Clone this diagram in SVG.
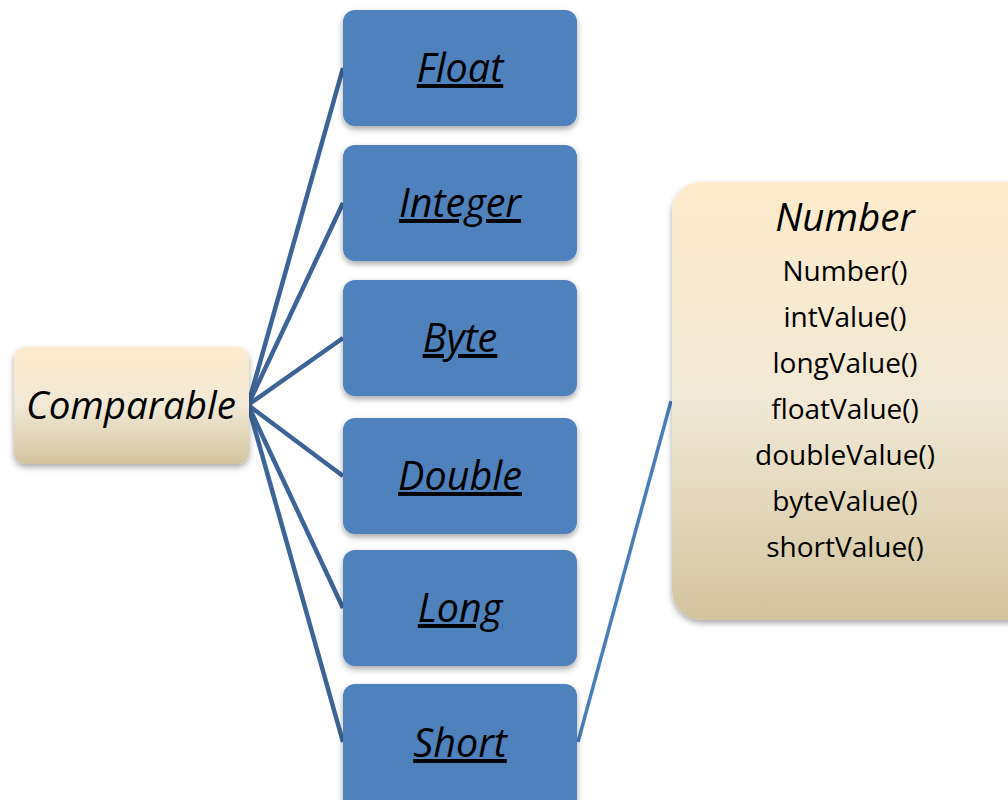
<svg xmlns="http://www.w3.org/2000/svg" width="1008" height="800" viewBox="0 0 1008 800">
  <style>
    .cls { fill: #4F81BD; filter: url(#shadow); }
    .cls-label { font-family: "Open Sans", Lato, sans-serif; font-style: italic; font-size: 39.5px; fill: #000; text-anchor: middle; text-decoration: underline; }
    .beige { filter: url(#shadow); }
    .title { font-family: "Open Sans", Lato, sans-serif; font-style: italic; font-size: 38.5px; fill: #000; text-anchor: middle; }
    .method { font-family: "Open Sans", Lato, sans-serif; font-size: 28px; fill: #000; text-anchor: middle; }
    .link { stroke: #3C6496; stroke-width: 4.5; fill: none; }
    .link-thin { stroke: #4A7EBB; stroke-width: 3.5; fill: none; }
  </style>
  <defs>
    <filter id="shadow" x="-10%" y="-10%" width="120%" height="130%">
      <feDropShadow dx="0" dy="3" stdDeviation="3" flood-color="#000" flood-opacity="0.35"/>
    </filter>
    <linearGradient id="beigeGrad" x1="0" y1="0" x2="0" y2="1">
      <stop offset="0" stop-color="#FDEBCB"/>
      <stop offset="0.5" stop-color="#F1E9D6"/>
      <stop offset="1" stop-color="#D3C49E"/>
    </linearGradient>
  </defs>

  <rect width="1008" height="800" fill="#FFFFFF"/>

  <!-- connectors -->
  <g id="connectors">
    <line class="link" x1="248" y1="405" x2="343" y2="68"/>
    <line class="link" x1="248" y1="405" x2="343" y2="203"/>
    <line class="link" x1="248" y1="405" x2="343" y2="338"/>
    <line class="link" x1="248" y1="405" x2="343" y2="476"/>
    <line class="link" x1="248" y1="405" x2="343" y2="608"/>
    <line class="link" x1="248" y1="405" x2="343" y2="742"/>
    <line class="link-thin" x1="578" y1="742" x2="671" y2="401"/>
  </g>

  <g id="comparable">
    <rect class="beige" x="14" y="347" width="235" height="117" rx="12" fill="url(#beigeGrad)"/>
    <text class="title" x="131" y="419">Comparable</text>
  </g>

  <g id="float">
    <rect class="cls" x="343" y="10" width="234" height="116" rx="12"/>
    <text class="cls-label" x="460" y="82">Float</text>
  </g>
  <g id="integer">
    <rect class="cls" x="343" y="145" width="234" height="116" rx="12"/>
    <text class="cls-label" x="460" y="217">Integer</text>
  </g>
  <g id="byte">
    <rect class="cls" x="343" y="280" width="234" height="116" rx="12"/>
    <text class="cls-label" x="460" y="352">Byte</text>
  </g>
  <g id="double">
    <rect class="cls" x="343" y="418" width="234" height="116" rx="12"/>
    <text class="cls-label" x="460" y="490">Double</text>
  </g>
  <g id="long">
    <rect class="cls" x="343" y="550" width="234" height="116" rx="12"/>
    <text class="cls-label" x="460" y="622">Long</text>
  </g>
  <g id="short">
    <rect class="cls" x="343" y="684" width="234" height="130" rx="12"/>
    <text class="cls-label" x="460" y="757">Short</text>
  </g>

  <g id="number">
    <rect class="beige" x="672" y="182" width="370" height="438" rx="30" fill="url(#beigeGrad)"/>
    <text class="title" x="845" y="231">Number</text>
    <text class="method" x="845" y="281">Number()</text>
    <text class="method" x="845" y="327">intValue()</text>
    <text class="method" x="845" y="373">longValue()</text>
    <text class="method" x="845" y="419">floatValue()</text>
    <text class="method" x="845" y="465">doubleValue()</text>
    <text class="method" x="845" y="511">byteValue()</text>
    <text class="method" x="845" y="557">shortValue()</text>
  </g>
</svg>
